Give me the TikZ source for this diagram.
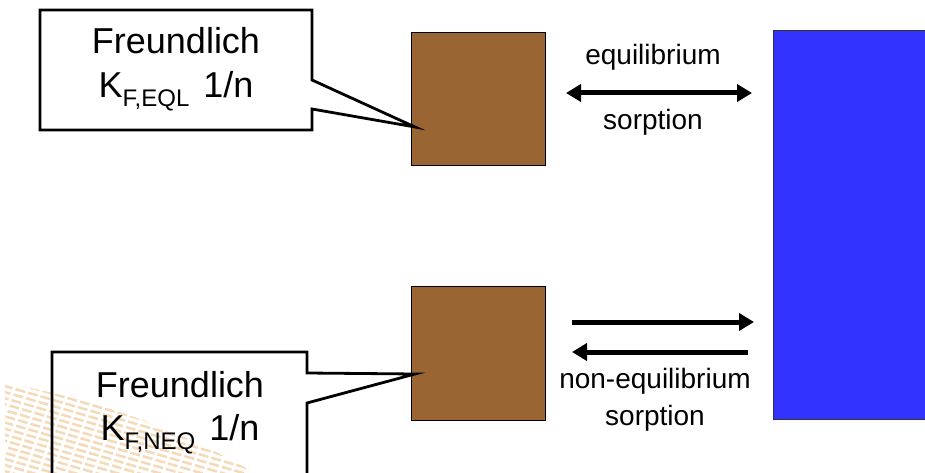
\documentclass[tikz,border=0pt]{standalone}
\usepackage{fontspec}
\setmainfont{Liberation Sans}
\usetikzlibrary{arrows.meta}
\definecolor{soil}{RGB}{153,102,51}
\definecolor{water}{RGB}{51,51,255}
\definecolor{wmark}{RGB}{240,205,160}
\tikzset{
  grain/.style={fill=soil,draw=black,line width=0.8pt},
  callout/.style={draw=black,line width=2.8pt,line join=miter},
  bigtxt/.style={font=\fontsize{36}{40}\selectfont,anchor=base,inner sep=0pt},
  smalltxt/.style={font=\fontsize{28}{32}\selectfont,anchor=base,inner sep=0pt},
  fatarrow/.style={line width=5pt,-{Triangle[length=15pt,width=17pt]}},
  stripe/.style={wmark,line width=2.5pt,dash pattern=on 10pt off 3pt,opacity=0.75},
}
\begin{document}
\begin{tikzpicture}[x=1pt,y=-1pt]
\useasboundingbox (0,0) rectangle (925,473);
% watermark stripes
\begin{scope}
\clip (5,383) .. controls (100,400) and (180,430) .. (255,473) -- (5,473) -- cycle;
\foreach \k in {0,...,16}{
  \draw[stripe] ({5-2*\k},{380+5.5*\k}) -- ({265-2*\k},{455+5.5*\k});
}
\end{scope}
% blue water body
\node[fill=water,draw=black!80,line width=0.8pt,minimum width=170pt,minimum height=389pt,inner sep=0pt,anchor=north west] (water) at (773,30) {};
% soil grains
\node[grain,minimum width=134pt,minimum height=133pt,inner sep=0pt,anchor=north west] (g1) at (411,32) {};
\node[grain,minimum width=134pt,minimum height=134pt,inner sep=0pt,anchor=north west] (g2) at (411,286) {};
% callout 1
\coordinate (t1) at (415,127);
\draw[callout] (40,10) -- (312,10) -- (312,80) -- (t1) -- (312,109) -- (312,130) -- (40,130) -- cycle;
\node[bigtxt] (f1) at (176,54) {Freundlich};
\node[bigtxt] (k1) at (176,98) {K\raisebox{-9pt}{\fontsize{24}{26}\selectfont F,EQL}\hspace{14pt}1/n};
% callout 2
\coordinate (t2) at (415,374);
\draw[callout] (52,480) -- (52,352) -- (307,352) -- (307,373) -- (t2) -- (307,403) -- (307,480);
\node[bigtxt] (f2) at (180,397) {Freundlich};
\node[bigtxt] (k2) at (180,440) {K\raisebox{-9pt}{\fontsize{24}{26}\selectfont F,NEQ}\hspace{14pt}1/n};
% equilibrium arrows
\coordinate (e1) at (566,93);
\coordinate (e2) at (752,93);
\draw[line width=5pt,{Triangle[length=15pt,width=17pt]}-{Triangle[length=15pt,width=17pt]}] (e1) -- (e2);
\node[smalltxt] (eq) at (653,65) {equilibrium};
\node[smalltxt] (so1) at (653,130) {sorption};
% non-equilibrium arrows
\coordinate (n1) at (572,322);
\coordinate (n2) at (754,322);
\coordinate (n3) at (748,352);
\coordinate (n4) at (572,352);
\draw[fatarrow] (n1) -- (n2);
\draw[fatarrow] (n3) -- (n4);
\node[smalltxt] (neq) at (655,388) {non-equilibrium};
\node[smalltxt] (so2) at (655,425) {sorption};
\end{tikzpicture}
\end{document}
